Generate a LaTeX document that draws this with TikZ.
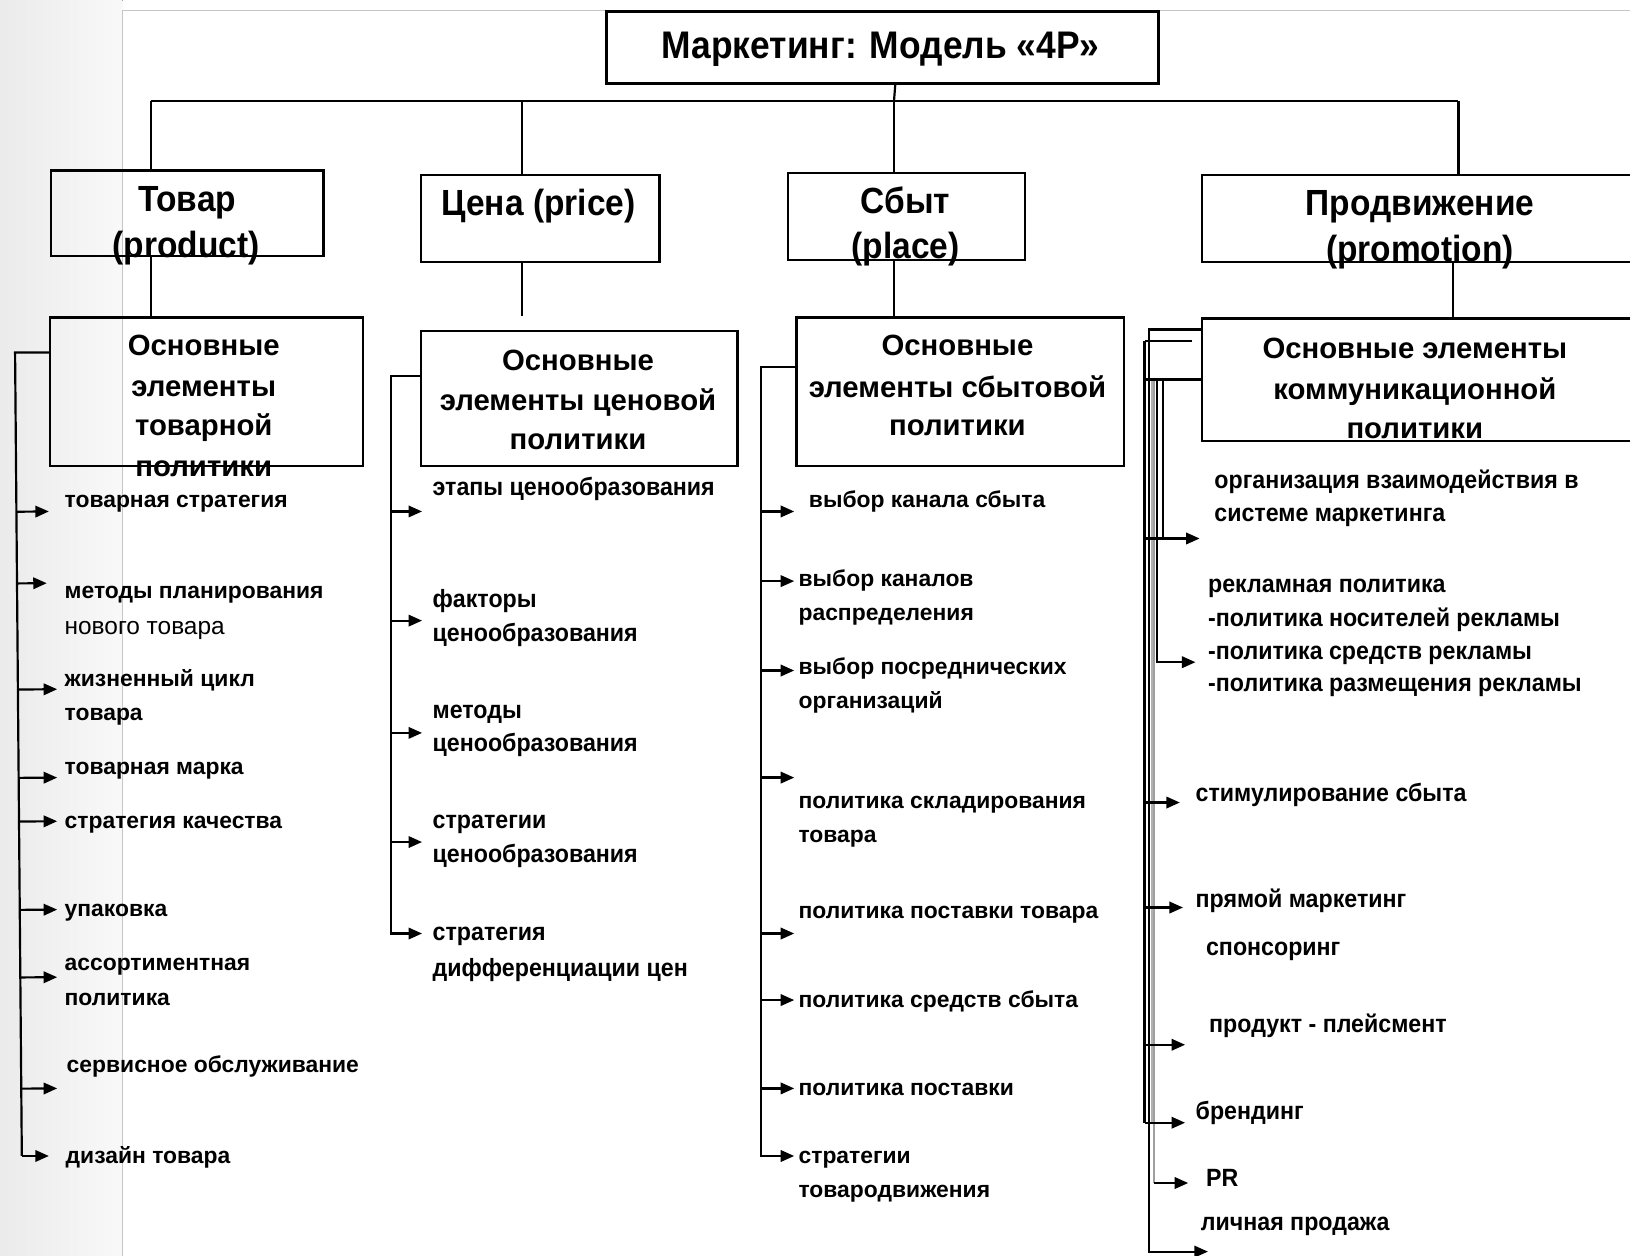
\documentclass[tikz,border=0pt]{standalone}
\usepackage{fontspec}
\setmainfont{Liberation Sans}
\newfontfamily\nfont[FakeStretch=0.92]{Liberation Sans}
\newfontfamily\cfont[FakeStretch=0.93]{Liberation Sans}
\usetikzlibrary{arrows.meta,calc}
\begin{document}
\begin{tikzpicture}[x=1pt,y=-1pt,
  box/.style={draw, line width=2.4pt, rectangle, inner sep=0pt, anchor=north west},
  con/.style={line width=2.1pt},
  arr/.style={line width=2.1pt, -{Triangle[length=13pt,width=11pt]}},
  ttl/.style={font=\nfont\bfseries\fontsize{37}{40}\selectfont, inner sep=0pt, anchor=base},
  lone/.style={font=\nfont\bfseries\fontsize{35}{38}\selectfont, inner sep=0pt, anchor=base},
  ltwo/.style={font=\bfseries\fontsize{28.2}{32}\selectfont, inner sep=0pt, anchor=base},
  iw/.style={font=\bfseries\fontsize{22}{26}\selectfont, inner sep=0pt, anchor=base west},
  iwr/.style={font=\fontsize{23.5}{26}\selectfont, inner sep=0pt, anchor=base west},
  itn/.style={font=\cfont\bfseries\fontsize{24}{28}\selectfont, inner sep=0pt, anchor=base west},
]
\useasboundingbox (0,0) rectangle (1568,1208);
% slide background
\fill[left color=gray!16, right color=gray!5] (0,0) rectangle (118,1208);
\draw[gray!45, line width=1.2pt] (118,1208) -- (118,10) -- (1568,10);

% title
\node[box, minimum width=531pt, minimum height=69pt] (title) at (582,10) {};
\node[ttl] (titletxt) at (847,56) {Маркетинг: Модель «4P»};

% level 1
\node[box, minimum width=262pt, minimum height=82pt] (p1) at (48,163) {};
\node[box, minimum width=229pt, minimum height=84pt] (p2) at (404,167) {};
\node[box, minimum width=228pt, minimum height=84pt] (p3) at (757,165) {};
\node[box, minimum width=420pt, minimum height=84pt] (p4) at (1155,167) {};
\node[lone] (p1a) at (180,203) {Товар};
\node[lone] (p1b) at (179,248) {(product)};
\node[lone] (p2a) at (518,207) {Цена (price)};
\node[lone] (p3a) at (871,205) {Сбыт};
\node[lone] (p3b) at (871,249) {(place)};
\node[lone] (p4a) at (1366,207) {Продвижение};
\node[lone] (p4b) at (1366,252) {(promotion)};

% bus
\coordinate (busL) at (145,97);
\coordinate (c2) at (502,97);
\coordinate (c3) at (860,97);
\coordinate (busR) at (1403,97);
\coordinate (c4) at (1398,97);
\draw[con] (busL) -- (busR);
\draw[con] ([xshift=12.5pt]title.south) -- (c3);
\draw[con] (busL) -- (busL |- p1.north);
\draw[con] (c2) -- (c2 |- p2.north);
\draw[con] (c3) -- (c3 |- p3.north);
\draw[con] (busR) -- (busR |- p4.north);

% level 2
\node[box, minimum width=301pt, minimum height=143pt] (q1) at (47,304) {};
\node[box, minimum width=304pt, minimum height=130pt] (q2) at (404,317) {};
\node[box, minimum width=315pt, minimum height=143pt] (q3) at (765,304) {};
\node[box, minimum width=420pt, minimum height=118pt] (q4) at (1155,305) {};
\draw[con] (p1.south -| busL) -- (q1.north -| busL);
\draw[con] (p2.south -| c2) -- ++(0,51);
\draw[con] (p3.south -| c3) -- (q3.north -| c3);
\draw[con] (p4.south -| c4) -- (q4.north -| c4);

\node[ltwo] (q1a) at (196,342) {Основные};
\node[ltwo] (q1b) at (196,381) {элементы};
\node[ltwo] (q1c) at (196,419) {товарной};
\node[ltwo] (q1d) at (196,458) {политики};
\node[ltwo] (q2a) at (556,356) {Основные};
\node[ltwo] (q2b) at (556,395) {элементы ценовой};
\node[ltwo] (q2c) at (556,432) {политики};
\node[ltwo] (q3a) at (921,342) {Основные};
\node[ltwo] (q3b) at (921,382) {элементы сбытовой};
\node[ltwo] (q3c) at (921,419) {политики};
\node[ltwo] (q4a) at (1361,345) {Основные элементы};
\node[ltwo] (q4b) at (1361,384) {коммуникационной};
\node[ltwo] (q4c) at (1361,422) {политики};

% column 1
\coordinate (t1a) at (14.5,339);
\coordinate (t1z) at (21,1112);
\coordinate (a1-9) at (47,1112);
\draw[con] (q1.west |- t1a) -- (t1a) -- (t1z);
\draw[arr] (t1z) -- (a1-9);
\foreach \y/\x [count=\i] in {492/47, 561/45, 663/55, 748/55, 790/55, 875/55, 940/55, 1047/55}{
  \coordinate (a1-\i) at (\x,\y);
  \draw[arr] ($(t1a)!(a1-\i)!(t1z)$) -- (a1-\i);
}
\node[iw] (x1) at (62,488) {товарная стратегия};
\node[iw] (x2) at (62,576) {методы планирования};
\node[iwr] (x2b) at (62,610) {нового товара};
\node[iw] (x3) at (62,660) {жизненный цикл};
\node[iw] (x3b) at (62,693) {товара};
\node[iw] (x4) at (62,745) {товарная марка};
\node[iw] (x5) at (62,797) {стратегия качества};
\node[iw] (x6) at (62,882) {упаковка};
\node[iw] (x7) at (62,934) {ассортиментная};
\node[iw] (x7b) at (62,967) {политика};
\node[iw] (x8) at (64,1032) {сервисное обслуживание};
\node[iw] (x9) at (63,1119) {дизайн товара};

% column 2
\coordinate (t2) at (376,362);
\coordinate (a2-5) at (406,898);
\draw[arr] (q2.west |- t2) -- (t2) |- (a2-5);
\foreach \y [count=\i] in {492, 597, 705, 810}{
  \coordinate (a2-\i) at (406,\y);
  \draw[arr] (a2-\i -| t2) -- (a2-\i);
}
\node[itn] (y1) at (416,477) {этапы ценообразования};
\node[itn] (y2) at (416,584) {факторы};
\node[itn] (y2b) at (416,617) {ценообразования};
\node[itn] (y3) at (416,691) {методы};
\node[itn] (y3b) at (416,723) {ценообразования};
\node[itn] (y4) at (416,797) {стратегии};
\node[itn] (y4b) at (416,830) {ценообразования};
\node[itn] (y5) at (416,905) {стратегия};
\node[itn] (y5b) at (416,939) {дифференциации цен};

% column 3
\coordinate (t3) at (732,353);
\coordinate (a3-8) at (764,1112);
\draw[arr] (q3.west |- t3) -- (t3) |- (a3-8);
\foreach \y [count=\i] in {492, 559, 645, 748, 898, 962, 1047}{
  \coordinate (a3-\i) at (764,\y);
  \draw[arr] (a3-\i -| t3) -- (a3-\i);
}
\node[iw] (z1) at (778,488) {выбор канала сбыта};
\node[iw] (z2) at (768,564) {выбор каналов};
\node[iw] (z2b) at (768,597) {распределения};
\node[iw] (z3) at (768,649) {выбор посреднических};
\node[iw] (z3b) at (768,682) {организаций};
\node[iw] (z4) at (768,778) {политика складирования};
\node[iw] (z4b) at (768,810) {товара};
\node[iw] (z5) at (768,884) {политика поставки товара};
\node[iw] (z6) at (768,969) {политика средств сбыта};
\node[iw] (z7) at (768,1054) {политика поставки};
\node[iw] (z8) at (768,1119) {стратегии};
\node[iw] (z8b) at (768,1152) {товародвижения};

% column 4
\coordinate (v1) at (1105,317);
\coordinate (v2) at (1101,328);
\coordinate (v2b) at (1147,328);
\coordinate (v3) at (1100,365);
\coordinate (g1) at (1108,365);
\coordinate (g2) at (1110,365);
\coordinate (v4) at (1113,365);
\coordinate (v5) at (1119,365);
\coordinate (e1) at (1154,518);
\coordinate (e2) at (1150,637);
\coordinate (e3) at (1135,772);
\coordinate (e4) at (1138,873);
\coordinate (e6) at (1140,1005);
\coordinate (e7) at (1140,1080);
\coordinate (e8) at (1143,1138);
\coordinate (e9) at (1162,1204);
\draw[gray!60, line width=1.6pt] (g1) -- (g1 |- e7);
\draw[gray!75, line width=1.4pt] (g2) -- (g2 |- e8);
\draw[con] (q4.west |- v3) -- (v3);
\draw[arr] (q4.west |- v1) -- (v1) |- (e9);
\draw[line width=3pt] (v2) -- (v2 |- e7);
\draw[con] (v2b) -- (v2);
\draw[arr] (v2 |- e7) -- (e7);
\draw[arr] (g2 |- e8) -- (e8);
\draw[arr] (v4) |- (e2);
\draw[con] (v5) -- (v5 |- e1);
\draw[arr] (e1 -| v2) -- (e1);
\draw[arr] (e3 -| v2) -- (e3);
\draw[arr] (e4 -| v2) -- (e4);
\draw[arr] (e6 -| v2) -- (e6);
\node[itn] (w1) at (1168,470) {организация взаимодействия в};
\node[itn] (w1b) at (1168,502) {системе маркетинга};
\node[itn] (w2) at (1162,570) {рекламная политика};
\node[itn] (w2b) at (1162,603) {-политика носителей рекламы};
\node[itn] (w2c) at (1162,634) {-политика средств рекламы};
\node[itn] (w2d) at (1162,665) {-политика размещения рекламы};
\node[itn] (w3) at (1150,771) {стимулирование сбыта};
\node[itn] (w4) at (1150,873) {прямой маркетинг};
\node[itn] (w5) at (1160,919) {спонсоринг};
\node[itn] (w6) at (1163,993) {продукт - плейсмент};
\node[itn] (w7) at (1150,1077) {брендинг};
\node[itn] (w8) at (1160,1141) {PR};
\node[itn] (w9) at (1155,1184) {личная продажа};
\end{tikzpicture}
\end{document}
